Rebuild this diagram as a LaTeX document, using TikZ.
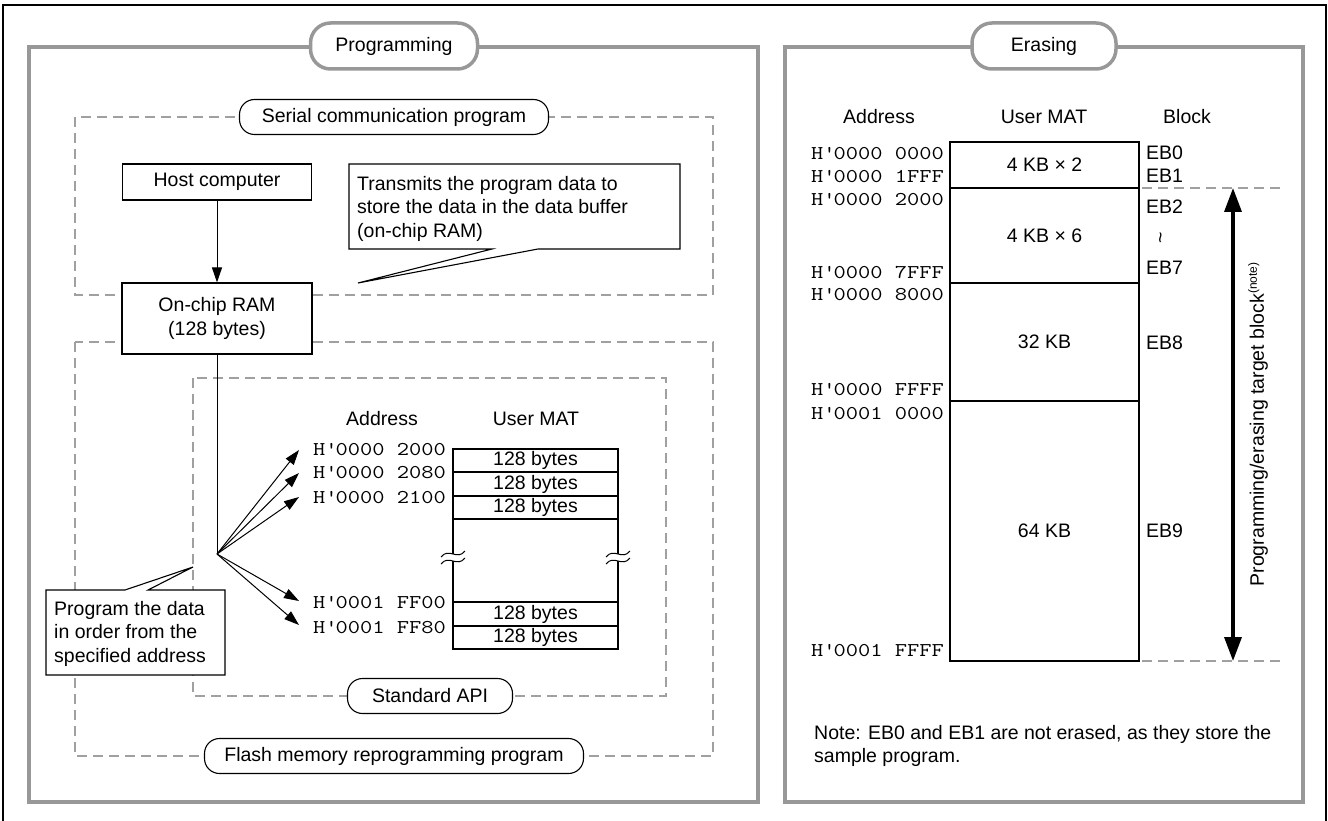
\documentclass[tikz,border=0pt]{standalone}
\usepackage{fontspec}
\setmainfont{Liberation Sans}
\setmonofont[FakeStretch=1.22]{Latin Modern Mono}
\usetikzlibrary{arrows.meta}

\definecolor{frameGrey}{RGB}{152,152,152}
\definecolor{dashGrey}{RGB}{160,160,160}
\newcommand\haddr[1]{H\textquotesingle #1}

\tikzset{
  brk/.pic={
    \fill[white] (-12,-1) .. controls (-4,-11) and (4,3) .. (12,-7)
      -- (12,0) .. controls (4,10) and (-4,-4) .. (-12,6) -- cycle;
    \draw[line width=1pt] (-12,-1) .. controls (-4,-11) and (4,3) .. (12,-7);
    \draw[line width=1pt] (-12,6) .. controls (-4,-4) and (4,10) .. (12,0);
  }
}

\begin{document}
\begin{tikzpicture}[x=1pt,y=-1pt,
  font=\fontsize{19.5}{23.5}\selectfont,
  panel/.style={draw=frameGrey,line width=3.5pt},
  titlepill/.style={draw=frameGrey,line width=3.5pt,fill=white,rounded corners=20pt,
    minimum height=46pt,inner sep=0pt},
  region/.style={draw=dashGrey,line width=1.8pt,dash pattern=on 10pt off 6pt},
  tag/.style={draw=black,line width=1.1pt,fill=white,rounded corners=15pt,
    minimum height=35pt,inner sep=0pt},
  box/.style={draw=black,line width=1.1pt,fill=white,inner sep=0pt},
  txt/.style={inner sep=0pt,anchor=base},
  lefttxt/.style={inner sep=0pt,anchor=base west},
  para/.style={inner sep=0pt,anchor=north west,align=left},
  addr/.style={inner sep=0pt,anchor=base west,font=\fontsize{19.5}{23.5}\selectfont\ttfamily},
  feed/.style={line width=1pt,-{Triangle[length=15pt,width=10pt]}},
  bigarrow/.style={line width=3.5pt,
    {Triangle[length=24pt,width=17pt]}-{Triangle[length=24pt,width=17pt]}},
]
\useasboundingbox (0,0) rectangle (1328,821);

% outer frame, open at the bottom
\draw[line width=2pt] (3,821) -- (3,5) -- (1326,5) -- (1326,821);

% the two panels with their titles
\draw[panel] (29,47) rectangle (758,802);
\draw[panel] (785,47) rectangle (1303,802);
\node[titlepill,minimum width=167pt] (tprog) at (394,46) {Programming};
\node[titlepill,minimum width=144pt] (terase) at (1044,46) {Erasing};

% ---------------- Programming ----------------
\draw[region] (75,117) rectangle (713,295);
\draw[region] (75,342) rectangle (713,756);
\draw[region] (193,378) rectangle (666,696);
\node[tag,minimum width=309pt] (serial) at (394,117) {Serial communication program};
\node[tag,minimum width=379pt] (flash) at (394,756) {Flash memory reprogramming program};
\node[tag,minimum width=165pt] (api) at (430,696) {Standard API};

\node[box,minimum width=189pt,minimum height=36pt] (host) at (217,182) {Host computer};
\node[box,minimum width=190pt,minimum height=71pt,align=center] (ram) at (217,318.5)
  {On-chip RAM\\(128 bytes)};
\draw[feed] (host) -- (ram);

% callout: data transfer
\draw[box] (349,164) -- (680,164) -- (680,249) -- (538,249) -- (358,283)
  -- (492,249) -- (349,249) -- cycle;
\node[para] (xmit) at (357,176)
  {Transmits the program data to\\store the data in the data buffer\\(on-chip RAM)};

% fan of writes into the user MAT
\coordinate (fan) at (217,554);
\draw[line width=1pt] (ram.south) -- (fan);
\coordinate (t1) at (299,450);
\coordinate (t2) at (299,473);
\coordinate (t3) at (299,497);
\coordinate (t4) at (299,601);
\coordinate (t5) at (299,625);
\foreach \t in {t1,t2,t3,t4,t5} \draw[feed] (fan) -- (\t);

\node[txt] (padrh) at (382,425) {Address};
\node[txt] (pmath) at (536,425) {User MAT};
\node[addr] (pa1) at (313,455) {\haddr{0000 2000}};
\node[addr] (pa2) at (313,478) {\haddr{0000 2080}};
\node[addr] (pa3) at (313,503) {\haddr{0000 2100}};
\node[addr] (pa4) at (313,608) {\haddr{0001 FF00}};
\node[addr] (pa5) at (313,633) {\haddr{0001 FF80}};

\node[box,minimum width=165pt,minimum height=23pt] (c1) at (535.5,460.5) {128 bytes};
\node[box,minimum width=165pt,minimum height=24pt] (c2) at (535.5,484) {128 bytes};
\node[box,minimum width=165pt,minimum height=23pt] (c3) at (535.5,507.5) {128 bytes};
\node[box,minimum width=165pt,minimum height=83pt] (cgap) at (535.5,560.5) {};
\node[box,minimum width=165pt,minimum height=24pt] (c4) at (535.5,614) {128 bytes};
\node[box,minimum width=165pt,minimum height=23pt] (c5) at (535.5,637.5) {128 bytes};
\pic at (453,558) {brk};
\pic at (618,558) {brk};

% callout: write order
\draw[box] (46,590) -- (125,590) -- (193,567) -- (148,590) -- (225,590)
  -- (225,675) -- (46,675) -- cycle;
\node[para] (order) at (54,601) {Program the data\\in order from the\\specified address};

% ---------------- Erasing ----------------
\node[txt] (eadrh) at (879,124) {Address};
\node[txt] (emath) at (1044,124) {User MAT};
\node[txt] (eblkh) at (1187,124) {Block};

\node[addr] (ea1) at (811,160) {\haddr{0000 0000}};
\node[addr] (ea2) at (811,183) {\haddr{0000 1FFF}};
\node[addr] (ea3) at (811,206) {\haddr{0000 2000}};
\node[addr] (ea4) at (811,278) {\haddr{0000 7FFF}};
\node[addr] (ea5) at (811,300) {\haddr{0000 8000}};
\node[addr] (ea6) at (811,395) {\haddr{0000 FFFF}};
\node[addr] (ea7) at (811,419) {\haddr{0001 0000}};
\node[addr] (ea8) at (811,656) {\haddr{0001 FFFF}};

\node[box,minimum width=189pt,minimum height=46pt] (b1) at (1044.5,165) {4 KB × 2};
\node[box,minimum width=189pt,minimum height=95pt] (b2) at (1044.5,235.5) {4 KB × 6};
\node[box,minimum width=189pt,minimum height=118pt] (b3) at (1044.5,342) {32 KB};
\node[box,minimum width=189pt,minimum height=260pt] (b4) at (1044.5,531) {64 KB};

\node[lefttxt] (eb0) at (1146,160) {EB0};
\node[lefttxt] (eb1) at (1146,183) {EB1};
\node[lefttxt] (eb2) at (1146,214) {EB2};
\node[inner sep=0pt,rotate=90] (ebto) at (1163,238) {\textasciitilde};
\node[lefttxt] (eb7) at (1146,274) {EB7};
\node[lefttxt] (eb8) at (1146,349) {EB8};
\node[lefttxt] (eb9) at (1146,537) {EB9};

% target range
\draw[region] (1142,188) -- (1282,188);
\draw[region] (1142,661) -- (1282,661);
\coordinate (rtop) at (1233,188);
\coordinate (rbot) at (1233,661);
\draw[bigarrow] (rbot) -- (rtop);
\node[inner sep=0pt,rotate=90] (rlabel) at (1258,424.5)
  {Programming/erasing target block\raisebox{7pt}{\fontsize{12}{12}\selectfont (note)}};

\node[para] (enote) at (814,725)
  {Note: EB0 and EB1 are not erased, as they store the\\sample program.};
\end{tikzpicture}
\end{document}
